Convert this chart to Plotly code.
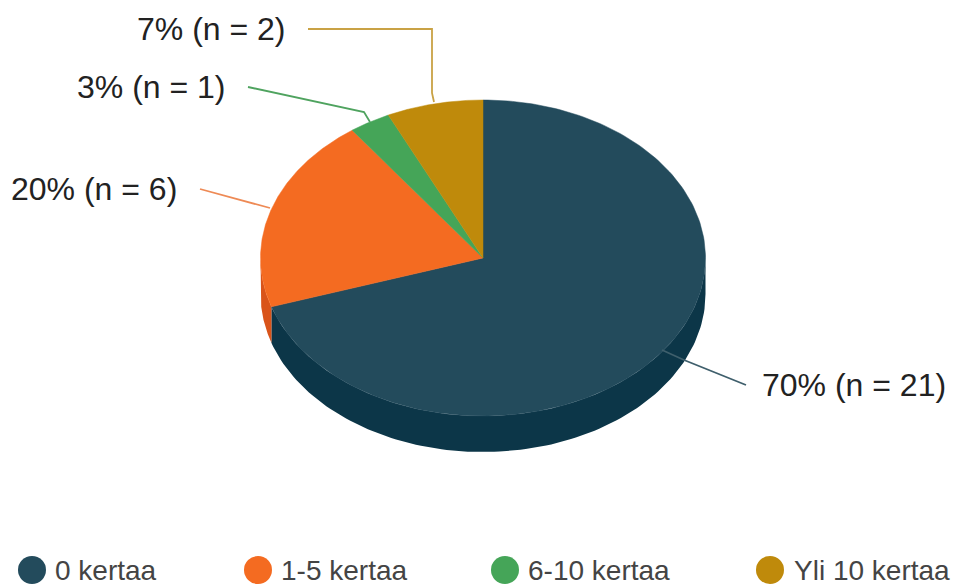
import numpy as np
import plotly.graph_objects as go

categories = ["0 kertaa", "1-5 kertaa", "6-10 kertaa", "Yli 10 kertaa"]
percents = [70, 20, 3, 7]
percent_labels = ["70% (n = 21)", "20% (n = 6)", "3% (n = 1)", "7% (n = 2)"]

top_colors = ["#234b5c", "#f46b21", "#45a558", "#bf8a0b"]
side_colors = ["#0c3648", "#d9541a", "#2f8a42", "#a0740a"]

CX, CY, RX, RY, DEPTH = 483, 258, 222.5, 158, 36
FONT = "Liberation Sans, Arial, sans-serif"

def ell(t, dy=0):
    r = np.radians(t)
    return CX + RX * np.sin(r), CY - RY * np.cos(r) + dy

fig = go.Figure()
cum = np.concatenate([[0], np.cumsum(percents)]) / sum(percents) * 360

# side walls (visible front half only: 90..270 degrees)
for i, c in enumerate(categories):
    a, b = max(cum[i], 90), min(cum[i + 1], 270)
    if b <= a:
        continue
    t = np.linspace(a, b, 120)
    x1, y1 = ell(t)
    x2, y2 = ell(t[::-1], DEPTH)
    fig.add_trace(go.Scatter(x=np.r_[x1, x2, x1[0]], y=np.r_[y1, y2, y1[0]], mode="lines",
                             fill="toself", fillcolor=side_colors[i], line=dict(width=0),
                             hoverinfo="skip", showlegend=False))

# top slices
for i, c in enumerate(categories):
    t = np.linspace(cum[i], cum[i + 1], 200)
    x, y = ell(t)
    fig.add_trace(go.Scatter(x=np.r_[CX, x, CX], y=np.r_[CY, y, CY], mode="lines", name=c,
                             fill="toself", fillcolor=top_colors[i], line=dict(width=0.5, color=top_colors[i]),
                             showlegend=False))

# leader lines
leaders = [
    ([746, 684, 662], [385, 360, 350], "#3f5f6c"),
    ([200, 270], [189, 208], "#ee8a55"),
    ([248, 364, 370], [87, 112, 122], "#4fa35f"),
    ([308, 432, 432, 434], [29, 29, 93, 102], "#c9a245"),
]
for lx, ly, col in leaders:
    fig.add_trace(go.Scatter(x=lx, y=ly, mode="lines", line=dict(color=col, width=1.8),
                             hoverinfo="skip", showlegend=False))

# labels
label_pos = [(760, 385), (9, 189), (75, 87), (135, 29)]
for (lx, ly), s in zip(label_pos, percent_labels):
    fig.add_annotation(x=lx, y=ly, text=s, showarrow=False, xanchor="left", yanchor="middle",
                       font=dict(family=FONT, size=32, color="#222222"))

# legend row
legend_x = [32, 258, 505, 770]
legend_tx = [53, 279, 526, 792]
LEG_Y = 570
fig.add_trace(go.Scatter(x=legend_x, y=[LEG_Y] * 4, mode="markers",
                         marker=dict(size=28, color=top_colors), hoverinfo="skip", showlegend=False))
for tx, s in zip(legend_tx, categories):
    fig.add_annotation(x=tx, y=LEG_Y, text=s, showarrow=False, xanchor="left", yanchor="middle",
                       font=dict(family=FONT, size=28, color="#444444"))

fig.update_layout(
    width=953, height=586, margin=dict(l=0, r=0, t=0, b=0),
    paper_bgcolor="white", plot_bgcolor="white", showlegend=False,
    xaxis=dict(range=[0, 953], visible=False, fixedrange=True),
    yaxis=dict(range=[586, 0], visible=False, fixedrange=True),
)
fig.write_html("out.html", config=dict(displayModeBar=False),
               post_script="document.body.style.margin='0';document.documentElement.style.overflow='hidden';")
